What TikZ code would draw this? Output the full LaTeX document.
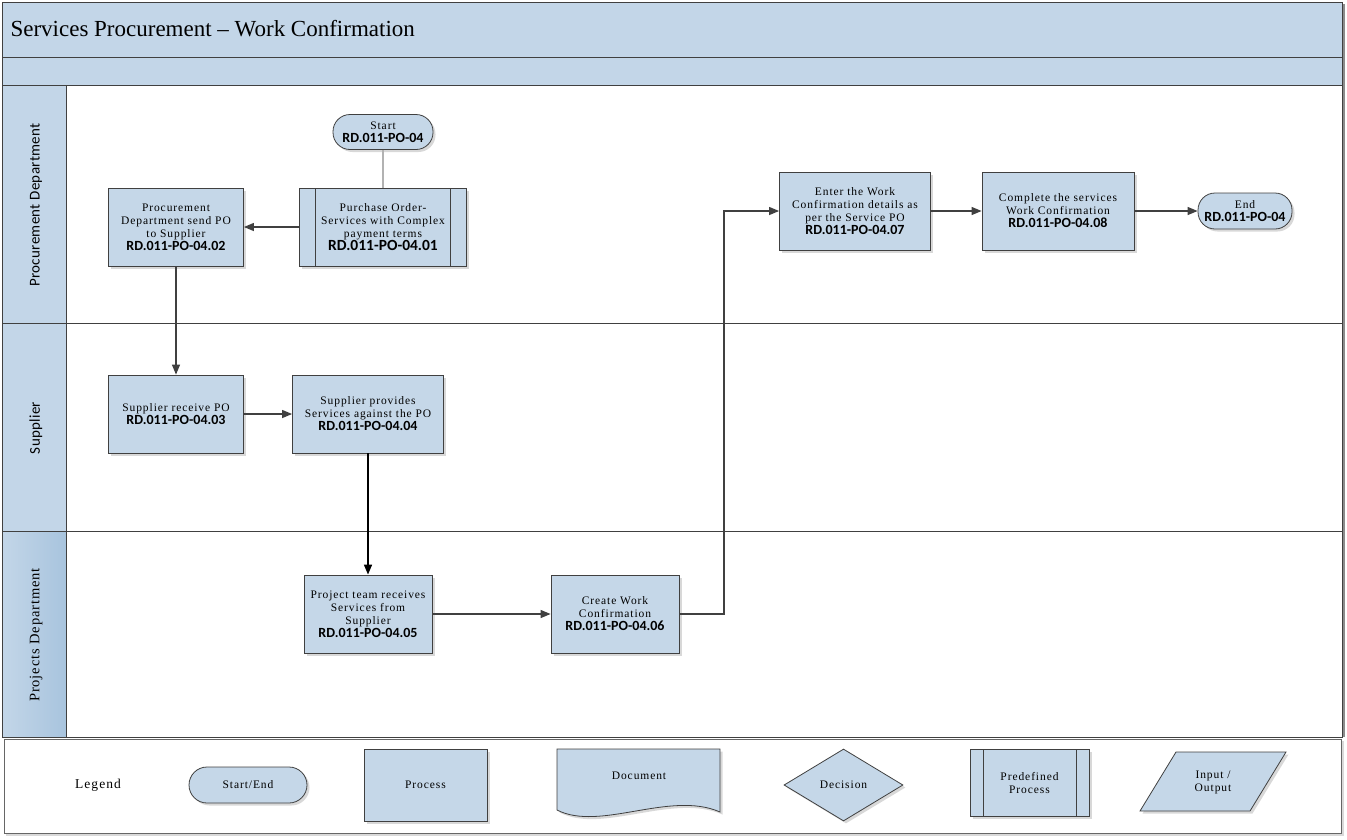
\documentclass[tikz,border=0pt]{standalone}
\usepackage{fontspec}
\setmainfont{Liberation Serif}
\newfontfamily\boxfont[LetterSpace=8]{Liberation Serif}
\newfontfamily\lanefontb[LetterSpace=6]{Liberation Serif}
\newfontfamily\idfont{Carlito}
\newfontfamily\lanefont[LetterSpace=2]{Carlito}
\usepackage{tikz}
\usetikzlibrary{arrows.meta,shadows,shapes.geometric}
\definecolor{boxblue}{RGB}{197,215,232}
\definecolor{bandblue}{RGB}{195,214,232}
\definecolor{lanedark}{RGB}{168,196,222}
\definecolor{linegray}{RGB}{64,64,64}
\newcommand{\rdcode}[2][14]{{\idfont\bfseries\fontsize{#1}{13}\selectfont #2}}

\begin{document}
\begin{tikzpicture}[x=1pt,y=-1pt,
		box/.style={draw=linegray,fill=boxblue,line width=0.8pt,align=center,inner sep=2pt,
			font=\boxfont\fontsize{11.5}{13}\selectfont,
			drop shadow={shadow xshift=2.5pt,shadow yshift=-2.5pt,fill=black!30}},
		proc/.style={box,minimum height=78pt},
		predef/.style={proc,path picture={
				\draw[linegray,line width=0.8pt] ([xshift=#1]path picture bounding box.north west) -- ([xshift=#1]path picture bounding box.south west);
				\draw[linegray,line width=0.8pt] ([xshift=-#1]path picture bounding box.north east) -- ([xshift=-#1]path picture bounding box.south east);}},
		term/.style={box,rounded corners=17pt,minimum height=35pt},
		flow/.style={draw=linegray,line width=1.2pt,-{Triangle[length=10pt,width=8pt]}},
		frame/.style={draw=linegray,line width=1pt},
		lgtext/.style={align=center,font=\boxfont\fontsize{11.5}{13}\selectfont},
		lane/.style={rotate=90,font=\lanefont\fontsize{15}{15}\selectfont}]
			\useasboundingbox (0,0) rectangle (1347,839);
			\fill[bandblue] (2,2) rectangle (1342,85);
			\draw[frame] (2,2) rectangle (1342,57);
			\draw[frame] (2,57) rectangle (1342,85);
			\node[anchor=west,font=\fontsize{23}{23}\selectfont] (title) at (7,29) {Services Procurement – Work Confirmation};
			\fill[bandblue] (2,85) rectangle (66,531);
			\shade[left color=bandblue,right color=lanedark] (2,531) rectangle (66,737);
			\draw[black!45,line width=2pt] (1344,4) -- (1344,737);
			\draw[frame] (2,85) rectangle (1342,737);
			\draw[frame] (66,85) -- (66,737);
			\draw[frame] (2,323) -- (1342,323);
			\draw[frame] (2,531) -- (1342,531);
			\node[lane] (lane1) at (36,205) {Procurement Department};
			\node[lane] (lane2) at (36,428) {Supplier};
			\node[lane,font=\lanefontb\fontsize{14.5}{14.5}\selectfont] (lane3) at (36,635) {Projects Department};

			\node[term,minimum width=100pt] (start) at (383,132) {Start\\\rdcode{RD.011-PO-04}};
			\node[predef=16pt,minimum width=167pt] (po1) at (383,227) {Purchase Order-\\Services with Complex\\payment terms\\\rdcode[15.5]{RD.011-PO-04.01}};
			\node[proc,minimum width=135pt] (po2) at (176,227) {Procurement\\Department send PO\\to Supplier\\\rdcode{RD.011-PO-04.02}};
			\node[proc,minimum width=135pt] (po3) at (176,414) {Supplier receive PO\\\rdcode{RD.011-PO-04.03}};
			\node[proc,minimum width=151pt] (po4) at (368,414) {Supplier provides\\Services against the PO\\\rdcode{RD.011-PO-04.04}};
			\node[proc,minimum width=128pt] (po5) at (368,614) {Project team receives\\Services from\\Supplier\\\rdcode{RD.011-PO-04.05}};
			\node[proc,minimum width=128pt] (po6) at (615,614) {Create Work\\Confirmation\\\rdcode{RD.011-PO-04.06}};
			\node[proc,minimum width=151pt] (po7) at (855,211) {Enter the Work\\Confirmation details as\\per the Service PO\\\rdcode{RD.011-PO-04.07}};
			\node[proc,minimum width=152pt] (po8) at (1058,211) {Complete the services\\Work Confirmation\\\rdcode{RD.011-PO-04.08}};
			\node[term,minimum width=94pt,minimum height=36pt] (endnode) at (1245,211) {End\\\rdcode{RD.011-PO-04}};

			\draw[black!30,line width=1.5pt] (start) -- (po1);
			\draw[flow] (po1) -- (po2);
			\draw[flow] (po2) -- (po3);
			\draw[flow] (po3) -- (po4);
			\draw[flow,draw=black,line width=1.6pt] (po4) -- (po5);
			\draw[flow] (po5) -- (po6);
			\coordinate (turn) at (724,614);
			\draw[flow] (po6) -- (turn) |- (po7);
			\draw[flow] (po7) -- (po8);
			\draw[flow] (po8) -- (endnode);

			\draw[black!15,line width=2pt] (6,835) -- (1343,835) -- (1343,741);
			\draw[black!60,line width=0.8pt] (4,739) rectangle (1341,833);
			\node[font=\boxfont\fontsize{13.5}{13.5}\selectfont] (legend) at (98,785) {Legend};
			\node[term,minimum width=118pt,minimum height=36pt,rounded corners=18pt] (lgterm) at (248,785) {Start/End};
			\node[box,minimum width=123pt,minimum height=72pt] (lgproc) at (425.5,785) {Process};
			\filldraw[box] (557,749) -- (720,749) -- (720,812) .. controls (670,790) and (600,832) .. (557,810) -- cycle;
			\node[lgtext] (lgdoc) at (639,776) {Document};
			\node[box,diamond,minimum width=119pt,minimum height=72pt] (lgdec) at (843.5,785) {Decision};
			\node[predef=13pt,minimum width=119pt,minimum height=67pt] (lgpre) at (1029.5,782.5) {Predefined\\Process};
			\filldraw[box] (1140,811) -- (1176,752) -- (1286,752) -- (1250,811) -- cycle;
			\node[lgtext] (lgio) at (1213,782) {Input /\\Output};
\end{tikzpicture}
\end{document}
